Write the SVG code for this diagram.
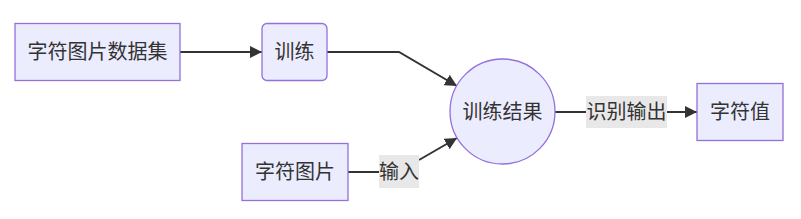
<svg xmlns="http://www.w3.org/2000/svg" width="801" height="219" viewBox="0 0 801 219">
<defs>
<style>
.node rect,.node circle{fill:#ECECFF;stroke:#9370DB;stroke-width:1.3}
.lbl{font-family:"Liberation Sans","Noto Sans CJK SC",sans-serif;font-size:20px;fill:#333;text-anchor:middle;dominant-baseline:central}
.edge{fill:none;stroke:#333;stroke-width:2}
.ebg{fill:#e8e8e8}
</style>
<marker id="arr" viewBox="0 0 10 10" refX="10" refY="5" markerWidth="12" markerHeight="12" markerUnits="userSpaceOnUse" orient="auto">
<path d="M0,0 L10,5 L0,10 z" fill="#333"/>
</marker>
</defs>
<rect width="801" height="219" fill="#fff"/>
<g id="connectors">
<path class="edge" d="M180,52 L262,52" marker-end="url(#arr)"/>
<path class="edge" d="M327,52 L399,52 L457,86" marker-end="url(#arr)"/>
<path class="edge" d="M348,172 L379,172"/>
<path class="edge" d="M419,160 L457,138" marker-end="url(#arr)"/>
<path class="edge" d="M555,112 L697,112" marker-end="url(#arr)"/>
<rect class="ebg" x="379" y="155" width="40" height="33"/>
<text class="lbl" x="399" y="172">输入</text>
<rect class="ebg" x="586" y="96" width="81" height="32"/>
<text class="lbl" x="626.5" y="112">识别输出</text>
</g>
<g id="dataset" class="node">
<rect x="15" y="23.5" width="165" height="57"/>
<text class="lbl" x="97.5" y="52">字符图片数据集</text>
</g>
<g id="train" class="node">
<rect x="262" y="23.5" width="65" height="57" rx="5" ry="5"/>
<text class="lbl" x="294.5" y="52">训练</text>
</g>
<g id="image" class="node">
<rect x="242" y="143.5" width="106" height="57"/>
<text class="lbl" x="295" y="172">字符图片</text>
</g>
<g id="result" class="node">
<circle cx="502.5" cy="111.5" r="52.5"/>
<text class="lbl" x="502.5" y="112">训练结果</text>
</g>
<g id="value" class="node">
<rect x="697" y="83.5" width="86" height="57"/>
<text class="lbl" x="740" y="112">字符值</text>
</g>
</svg>
